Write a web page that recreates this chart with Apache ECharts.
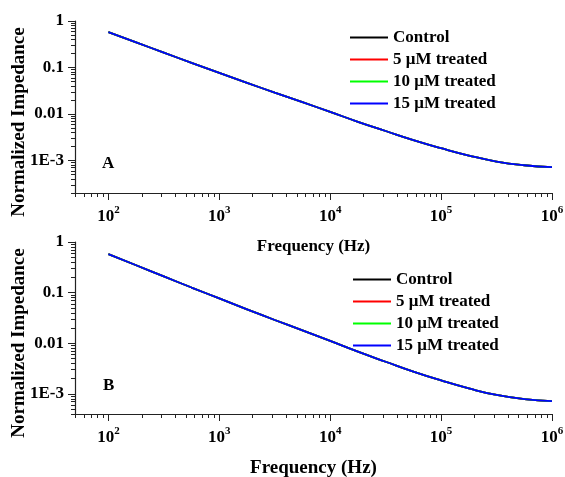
<!DOCTYPE html>
<html>
<head>
<meta charset="utf-8">
<script src="https://cdn.jsdelivr.net/npm/echarts@6/dist/echarts.min.js"></script>
<style>
  html, body { margin: 0; padding: 0; background: #fff; }
  #chart { width: 565px; height: 477px; }
</style>
</head>
<body>
<div id="chart"></div>
<script>
// frequency (Hz) and normalized impedance
const freq = [100, 178, 316, 562, 1000, 1778, 3162, 5623, 10000, 17783, 31623, 56234, 100000, 177828, 316228, 562341, 1000000];
const control   = [0.575, 0.347, 0.209, 0.126, 0.0767, 0.0468, 0.0288, 0.0180, 0.0111, 0.0068, 0.00431, 0.00275, 0.00184, 0.00128, 0.00095, 0.00079, 0.00072];
const treated5  = [0.575, 0.347, 0.209, 0.126, 0.0767, 0.0468, 0.0288, 0.0180, 0.0111, 0.0068, 0.00431, 0.00275, 0.00184, 0.00128, 0.00095, 0.00079, 0.00072];
const treated10 = [0.575, 0.347, 0.209, 0.126, 0.0767, 0.0468, 0.0288, 0.0180, 0.0111, 0.0068, 0.00431, 0.00275, 0.00184, 0.00128, 0.00095, 0.00079, 0.00072];
const treated15 = [0.575, 0.347, 0.209, 0.126, 0.0767, 0.0468, 0.0288, 0.0180, 0.0111, 0.0068, 0.00431, 0.00275, 0.00184, 0.00128, 0.00095, 0.00079, 0.00072];

const seriesNames = ['Control', '5 \u03bcM treated', '10 \u03bcM treated', '15 \u03bcM treated'];
const seriesData = [control, treated5, treated10, treated15];
const colors = ['#000000', '#ff0000', '#00ff00', '#0000ff'];

// tick values
const xMajor = [1e2, 1e3, 1e4, 1e5, 1e6];
const xMinor = [50, 60, 70, 80, 90,
  200, 300, 400, 500, 600, 700, 800, 900,
  2000, 3000, 4000, 5000, 6000, 7000, 8000, 9000,
  2e4, 3e4, 4e4, 5e4, 6e4, 7e4, 8e4, 9e4,
  2e5, 3e5, 4e5, 5e5, 6e5, 7e5, 8e5, 9e5];
const yMajor = [1, 0.1, 0.01, 0.001];
const yMinorTop = [2e-4, 3e-4, 4e-4, 5e-4, 6e-4, 7e-4, 8e-4, 9e-4,
  0.002, 0.003, 0.004, 0.005, 0.006, 0.007, 0.008, 0.009,
  0.02, 0.03, 0.04, 0.05, 0.06, 0.07, 0.08, 0.09,
  0.2, 0.3, 0.4, 0.5, 0.6, 0.7, 0.8, 0.9];
const yMinorBottom = yMinorTop.filter(v => v >= 4e-4);
const panelLabels = ['A', 'B'];

const font = 'Liberation Serif, Times New Roman, serif';
const chart = echarts.init(document.getElementById('chart'));

const grids = [
  { left: 75, top: 21, width: 477, height: 172, outerBoundsMode: 'none', containLabel: false },
  { left: 75, top: 242, width: 477, height: 172, outerBoundsMode: 'none', containLabel: false }
];
const yMins = [2e-4, 4e-4];
const xNameSize = [17, 19];

const xAxes = [], yAxes = [], series = [];
grids.forEach((g, gi) => {
  xAxes.push({
    type: 'log', logBase: 10, gridIndex: gi, min: 50, max: 1e6, position: 'bottom',
    name: 'Frequency (Hz)', nameLocation: 'middle', nameGap: 45, nameMoveOverlap: false,
    nameTextStyle: { fontFamily: font, fontWeight: 'bold', fontSize: xNameSize[gi], color: '#000' },
    axisLine: { lineStyle: { color: '#222', width: 1.2 } },
    axisTick: { length: 7, customValues: xMajor, lineStyle: { color: '#222' } },
    axisLabel: {
      customValues: xMajor, margin: 12,
      formatter: v => '{b|10}{s|' + Math.round(Math.log10(v)) + '}',
      rich: {
        b: { fontFamily: font, fontWeight: 'bold', fontSize: 17, color: '#000', lineHeight: 20, verticalAlign: 'bottom' },
        s: { fontFamily: font, fontWeight: 'bold', fontSize: 11, color: '#000', lineHeight: 11, verticalAlign: 'top' }
      }
    },
    splitLine: { show: false }
  });
  xAxes.push({
    type: 'log', logBase: 10, gridIndex: gi, min: 50, max: 1e6, position: 'bottom',
    axisLine: { show: false },
    axisTick: { length: 4, customValues: xMinor, lineStyle: { color: '#222' } },
    axisLabel: { show: false },
    splitLine: { show: false }
  });
  yAxes.push({
    type: 'log', logBase: 10, gridIndex: gi, min: yMins[gi], max: 1, position: 'left',
    name: 'Normalized Impedance', nameLocation: 'middle', nameGap: 46, nameRotate: 90, nameMoveOverlap: false,
    nameTextStyle: { fontFamily: font, fontWeight: 'bold', fontSize: 19, color: '#000', padding: [0, 30, 0, 0] },
    axisLine: { lineStyle: { color: '#222', width: 1.2 } },
    axisTick: { length: 7, customValues: yMajor, lineStyle: { color: '#222' } },
    axisLabel: {
      customValues: yMajor, margin: 11,
      fontFamily: font, fontWeight: 'bold', fontSize: 17, color: '#000',
      formatter: v => v >= 0.01 ? String(v) : v.toExponential(0).toUpperCase()
    },
    splitLine: { show: false }
  });
  yAxes.push({
    type: 'log', logBase: 10, gridIndex: gi, min: yMins[gi], max: 1, position: 'left',
    axisLine: { show: false },
    axisTick: { length: 4, customValues: gi === 0 ? yMinorTop : yMinorBottom, lineStyle: { color: '#222' } },
    axisLabel: { show: false },
    splitLine: { show: false }
  });
  seriesNames.forEach((name, si) => {
    series.push({
      name: name, type: 'line', xAxisIndex: gi * 2, yAxisIndex: gi * 2,
      data: freq.map((f, i) => [f, seriesData[si][i]]),
      symbol: 'none', smooth: true,
      lineStyle: { color: colors[si], width: 1.8 },
      itemStyle: { color: colors[si] }
    });
  });
});

const legendStyle = {
  orient: 'vertical', itemWidth: 38, itemHeight: 2, itemGap: 5, icon: 'rect',
  data: seriesNames,
  textStyle: { fontFamily: font, fontWeight: 'bold', fontSize: 17, color: '#000', lineHeight: 17 }
};

chart.setOption({
  backgroundColor: '#fff',
  animation: false,
  grid: grids,
  xAxis: xAxes,
  yAxis: yAxes,
  legend: [
    Object.assign({ left: 345, top: 24 }, legendStyle),
    Object.assign({ left: 348, top: 266 }, legendStyle)
  ],
  graphic: [
    { type: 'text', left: 102, top: 155, style: { text: panelLabels[0], font: 'bold 17px ' + font, fill: '#000' } },
    { type: 'text', left: 103, top: 377, style: { text: panelLabels[1], font: 'bold 17px ' + font, fill: '#000' } }
  ],
  series: series
});
</script>
</body>
</html>
